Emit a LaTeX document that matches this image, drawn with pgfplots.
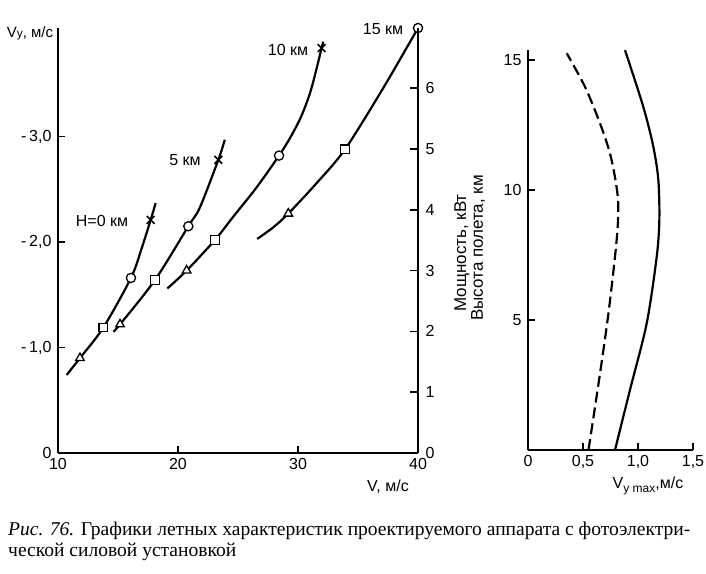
\documentclass[border=0pt]{standalone}
\usepackage{fontspec}
\setmainfont{Liberation Sans}
\newfontfamily\capfont{Liberation Serif}
\usepackage{pgfplots}
\pgfplotsset{compat=1.18}
\pgfplotsset{
  crv/.style={black, line width=2.2pt, smooth, tension=0.5, mark=none},
  mk/.style={black, only marks, mark size=4.3pt, mark options={solid, fill=white, line width=1.3pt}},
  every outer x axis line/.append style={-},
  every outer y axis line/.append style={-},
  every inner x axis line/.append style={-},
  every inner y axis line/.append style={-},
}
\begin{document}
\begin{tikzpicture}[x=1pt,y=1pt]
\path[use as bounding box] (0pt,0pt) rectangle (706pt,573pt);
% ---------------- left panel -----------------
\begin{axis}[
  at={(58pt,120pt)}, anchor=south west, scale only axis,
  width=360pt, height=425pt,
  xmin=10, xmax=40, ymin=0, ymax=4.03,
  axis x line*=bottom, axis y line*=left,
  axis line style={line width=1.8pt},
  xtick={10,20,30,40}, xticklabels={10,20,30,40},
  ytick={0,1,2,3}, yticklabels={0,{-\,1,0},{-\,2,0},{-\,3,0}},
  tick align=inside, major tick length=7pt,
  tick style={line width=1.5pt, black},
  ticklabel style={font=\fontsize{16}{16}\selectfont},
  xticklabel style={yshift=-2pt},
  yticklabel style={xshift=-3pt},
  clip=false,
]
% H = 0 km
\addplot[crv] coordinates {(10.72,0.74)(11.83,0.90)(13.78,1.19)(16.08,1.66)(16.97,1.94)(17.72,2.21)(18.14,2.37)};
% 5 km
\addplot[crv] coordinates {(14.61,1.15)(15.17,1.22)(18.08,1.64)(20.86,2.15)(21.83,2.33)(23.36,2.78)(23.9,2.97)};
% 10 km
\addplot[crv] coordinates {(19.11,1.56)(20.72,1.73)(23.08,2.02)(24.6,2.24)(26.56,2.52)(28.42,2.82)(29.4,3.00)(30.3,3.20)(31.1,3.45)(31.97,3.84)(32.1,3.90)};
% 15 km
\addplot[crv] coordinates {(26.6,2.03)(27.94,2.14)(29.19,2.27)(31.56,2.56)(33.92,2.88)(37.1,3.46)(40,4.03)};
% markers
\addplot[mk, mark=triangle*, mark size=5pt] coordinates {(11.83,0.90)(15.17,1.22)(20.72,1.73)(29.19,2.27)};
\addplot[mk, mark=square*, mark size=4.3pt] coordinates {(13.78,1.19)(18.08,1.64)(23.08,2.02)(33.92,2.88)};
\addplot[mk, mark=*, mark size=4.6pt] coordinates {(16.08,1.66)(20.86,2.15)(28.42,2.82)(40,4.03)};
\addplot[mk, mark=x, mark size=5.5pt, mark options={line width=1.6pt}] coordinates {(17.72,2.21)(23.36,2.78)(31.97,3.84)};
\end{axis}
% power axis (right side of left panel)
\begin{axis}[
  at={(58pt,120pt)}, anchor=south west, scale only axis,
  width=360pt, height=425pt,
  xmin=10, xmax=40, ymin=0, ymax=6.99,
  axis x line=none, axis y line*=right,
  axis line style={line width=1.8pt},
  ytick={0,1,2,3,4,5,6}, yticklabels={0,1,2,3,4,5,6},
  tick align=inside, major tick length=8pt,
  tick style={line width=1.5pt, black},
  ticklabel style={font=\fontsize{16}{16}\selectfont},
  yticklabel style={xshift=4pt},
]
\addplot[draw=none] coordinates {(10,0)};
\end{axis}
% ---------------- right panel -----------------
\begin{axis}[
  at={(528pt,123pt)}, anchor=south west, scale only axis,
  width=165pt, height=400.4pt,
  xmin=0, xmax=1.5, ymin=0, ymax=15.4,
  axis x line*=bottom, axis y line*=left,
  axis line style={line width=1.8pt},
  xtick={0,0.5,1,1.5}, xticklabels={0,{0,5},{1,0},{1,5}},
  ytick={5,10,15}, yticklabels={5,10,15},
  tick align=inside, major tick length=7pt,
  tick style={line width=1.5pt, black},
  ticklabel style={font=\fontsize{16}{16}\selectfont},
  xticklabel style={yshift=-2pt},
  yticklabel style={xshift=-3pt},
  clip=false,
]
\addplot[crv, dashed, dash pattern=on 11pt off 5pt] coordinates {(0.55,0)(0.655,2.95)(0.739,5.51)(0.806,8.08)(0.821,9.36)(0.80,10.26)(0.745,11.41)(0.655,12.56)(0.518,13.97)(0.352,15.26)};
\addplot[crv] coordinates {(0.791,0)(0.927,2.31)(1.079,4.87)(1.17,7.43)(1.194,8.85)(1.185,10.38)(1.139,11.67)(1.048,13.2)(0.882,15.38)};
\end{axis}
% ---------------- texts -----------------
\node[font=\fontsize{15}{15}\selectfont] at (30pt,540pt) {V{\fontsize{12}{12}\selectfont y}, м/с};
\node[font=\fontsize{16}{16}\selectfont] at (102pt,352pt) {H=0 км};
\node[font=\fontsize{16}{16}\selectfont] at (185pt,413pt) {5 км};
\node[font=\fontsize{16}{16}\selectfont] at (288pt,523pt) {10 км};
\node[font=\fontsize{16}{16}\selectfont] at (383pt,544pt) {15 км};
\node[font=\fontsize{16}{16}\selectfont] at (388pt,86pt) {V, м/с};
\node[font=\fontsize{16}{16}\selectfont] at (648pt,87pt) {V\raisebox{-0.4ex}{\fontsize{12}{12}\selectfont y max},м/с};
\node[font=\fontsize{17}{17}\selectfont, rotate=90] at (462pt,320pt) {Мощность, кВт};
\node[font=\fontsize{17}{17}\selectfont, rotate=90] at (478pt,325pt) {Высота полета, км};
\node[anchor=north west, inner sep=0pt] at (8pt,52pt) {\resizebox{682pt}{!}{\capfont\fontsize{14}{15}\selectfont
\begin{tabular}{@{}l@{}}
{\itshape Рис. 76.} Графики летных характеристик проектируемого аппарата с фотоэлектри-\\
ческой силовой установкой
\end{tabular}}};
\end{tikzpicture}
\end{document}
